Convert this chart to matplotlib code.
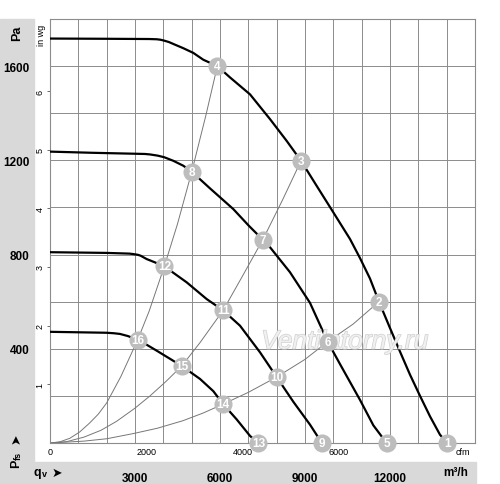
import matplotlib
matplotlib.use("Agg")
import matplotlib.pyplot as plt
import matplotlib.patheffects as pe
from matplotlib.patches import Rectangle

plt.rcParams['font.family'] = ['Liberation Sans', 'DejaVu Sans']

# fan curves, flow in m3/h and static pressure in Pa
fan_a_q = [0, 2000, 3500, 3765, 3900, 4035, 4200, 4353, 4706, 5059, 5412, 5906, 6353,
           7060, 7765, 8350, 8860, 9410, 10000, 10588, 10941, 11294, 11610, 12000,
           12353, 12706, 13059, 13412, 13765, 14024]
fan_a_p = [1717, 1716, 1715, 1714, 1712, 1708, 1702, 1694, 1676, 1656, 1627, 1600, 1552,
           1480, 1375, 1283, 1198, 1092, 979, 866, 785, 698, 600, 488,
           388, 290, 200, 113, 35, 0]

fan_b_q = [0, 1500, 3000, 3350, 3530, 3800, 4035, 4353, 4706, 5000, 5647, 6470, 7020,
           7510, 7765, 8470, 9176, 9800, 10235, 10941, 11412, 11880]
fan_b_p = [1237, 1232, 1228, 1227, 1225, 1220, 1213, 1198, 1177, 1152, 1081, 993, 922,
           863, 831, 725, 595, 430, 335, 183, 75, 0]

fan_c_q = [0, 2000, 2800, 2940, 3100, 3200, 3410, 3700, 4035, 4825, 5530, 6110, 6706,
           7412, 8000, 8588, 9176, 9595]
fan_c_p = [810, 807, 804, 802, 799, 795, 781, 767, 750, 682, 611, 563, 498,
           385, 280, 175, 78, 0]

fan_d_q = [0, 2000, 2250, 2470, 2750, 3095, 3400, 3765, 4650, 5294, 5765, 6110, 6590,
           7060, 7353]
fan_d_p = [472, 468, 466, 463, 454, 438, 418, 392, 327, 272, 220, 165, 100,
           30, 0]

# system curves (thin grey lines from the origin)
sys_1_q = [0, 350, 700, 1050, 1400, 1700, 2000, 2500, 3095, 3500, 4035, 4500, 5000,
           5500, 5906]
sys_1_p = [0, 5, 20, 47, 85, 122, 170, 282, 438, 560, 750, 930, 1150,
           1390, 1600]

sys_2_q = [0, 600, 1200, 1800, 2350, 3000, 3530, 4100, 4650, 5300, 6110, 6800, 7510,
           8200, 8860]
sys_2_p = [0, 6, 25, 54, 92, 148, 200, 262, 327, 427, 563, 710, 863,
           1030, 1198]

sys_3_q = [0, 1200, 2000, 2940, 3800, 4700, 5400, 6110, 7000, 8000, 9000, 9800, 10700,
           11610]
sys_3_p = [0, 8, 18, 40, 63, 95, 127, 165, 215, 280, 355, 430, 505,
           600]

# numbered operating points
point_ids = [1, 2, 3, 4, 5, 6, 7, 8, 9, 10, 11, 12, 13, 14, 15, 16]
point_q = [14024, 11610, 8860, 5906, 11880, 9800, 7510, 5000,
           9595, 8000, 6110, 4035, 7353, 6110, 4650, 3095]
point_p = [0, 600, 1198, 1600, 0, 430, 863, 1152,
           0, 280, 563, 750, 0, 165, 327, 438]

pa_ticks = [400, 800, 1200, 1600]
m3h_ticks = [3000, 6000, 9000, 12000]
inwg_ticks = [1, 2, 3, 4, 5, 6]
cfm_ticks = [0, 2000, 4000, 6000]

PA_PER_INWG = 249.09
M3H_PER_CFM = 1.699

W, H = 500, 485
fig = plt.figure(figsize=(W / 100, H / 100), dpi=100)
ax = fig.add_axes([50 / W, 1 - 444 / H, 425 / W, 424 / H])

band = '#d9d9d9'
fig.patches.append(Rectangle((0, 0), 34 / W, 1 - 20 / H, transform=fig.transFigure,
                             color=band, zorder=-1))
fig.patches.append(Rectangle((0, 0), 476 / W, 22 / H, transform=fig.transFigure,
                             color=band, zorder=-1))

ax.set_xlim(0, 15000)
ax.set_ylim(0, 1800)
ax.set_xticks(m3h_ticks)
ax.set_xticks(range(0, 15001, 1000), minor=True)
ax.set_yticks(pa_ticks)
ax.set_yticks(range(0, 1801, 200), minor=True)
ax.grid(which='both', color='#8c8c8c', lw=0.7, zorder=0)
ax.set_axisbelow(True)
ax.tick_params(which='both', length=0)
ax.tick_params(axis='x', pad=21, labelsize=8.5)
ax.tick_params(axis='y', pad=14.5, labelsize=8.5)
for lab in ax.get_xticklabels() + ax.get_yticklabels():
    lab.set_fontweight('bold')
for s in ax.spines.values():
    s.set_color('#8c8c8c')
    s.set_linewidth(0.8)

# secondary scales: cfm below, inch water gauge on the left
secx = ax.secondary_xaxis('bottom', functions=(lambda m: m / M3H_PER_CFM,
                                               lambda c: c * M3H_PER_CFM))
secx.set_xticks(cfm_ticks)
secx.tick_params(length=0, pad=3, labelsize=6.5)
secx.spines['bottom'].set_visible(False)

secy = ax.secondary_yaxis('left', functions=(lambda p: p / PA_PER_INWG,
                                             lambda i: i * PA_PER_INWG))
secy.set_yticks(inwg_ticks)
secy.tick_params(length=2.5, width=0.6, color='#555555', pad=1.5,
                 labelsize=6.5, labelrotation=90)
secy.spines['left'].set_visible(False)
for lab in secy.get_yticklabels():
    lab.set_va('center')

for q, p in [(sys_1_q, sys_1_p), (sys_2_q, sys_2_p), (sys_3_q, sys_3_p)]:
    ax.plot(q, p, color='#777777', lw=0.7, zorder=2)

for q, p in [(fan_a_q, fan_a_p), (fan_b_q, fan_b_p), (fan_c_q, fan_c_p), (fan_d_q, fan_d_p)]:
    ax.plot(q, p, color='black', lw=1.6, zorder=3, solid_joinstyle='round')

ax.text(10400, 430, 'Ventilatorny.ru', style='italic', fontsize=19, color='#f2f2f2',
        ha='center', va='center', zorder=4, alpha=0.9,
        path_effects=[pe.withStroke(linewidth=1.0, foreground='#cccccc')])

ax.scatter(point_q, point_p, s=170, color='#bdbdbd', zorder=5, clip_on=False,
           linewidths=0)
for n, q, p in zip(point_ids, point_q, point_p):
    ax.text(q, p, str(n), ha='center', va='center', color='white', fontsize=8.5,
            fontweight='bold', zorder=6, clip_on=False)

# unit labels
fig.text(17 / W, 1 - 33 / H, 'Pa', rotation=90, ha='center', va='center',
         fontsize=9, fontweight='bold')
fig.text(42 / W, 1 - 35.5 / H, 'in wg', rotation=90, ha='center', va='center',
         fontsize=6.5)
fig.text(456 / W, 1 - 473 / H, 'm³/h', ha='center', va='center',
         fontsize=8.5, fontweight='bold')
fig.text(463 / W, 1 - 453 / H, 'cfm', ha='center', va='center', fontsize=6.5)

fig.text(16 / W, 1 - 464 / H, 'P', rotation=90, ha='center', va='center',
         fontsize=9, fontweight='bold')
fig.text(18.5 / W, 1 - 455.5 / H, 'fs', rotation=90, ha='center', va='center',
         fontsize=6.5, fontweight='bold')
fig.text(16 / W, 1 - 439 / H, '➤', rotation=90, ha='center', va='center',
         fontsize=9, family=['DejaVu Sans'])

fig.text(37 / W, 1 - 473 / H, 'q', ha='center', va='center',
         fontsize=9, fontweight='bold')
fig.text(44 / W, 1 - 475 / H, 'v', ha='center', va='center',
         fontsize=6.5, fontweight='bold')
fig.text(57 / W, 1 - 473 / H, '➤', ha='center', va='center',
         fontsize=9, family=['DejaVu Sans'])

fig.savefig('out.png', dpi=100)
